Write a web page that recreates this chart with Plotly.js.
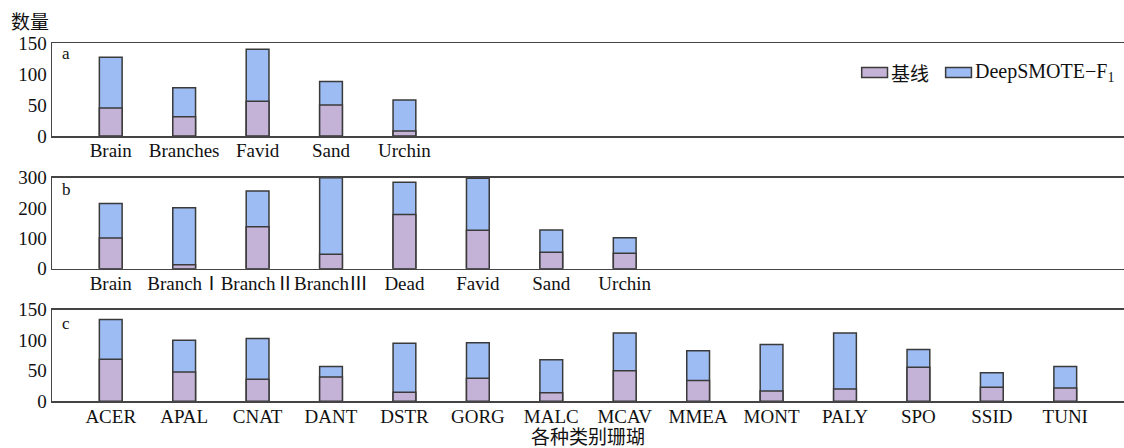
<!DOCTYPE html>
<html>
<head>
<meta charset="utf-8">
<script src="https://cdn.plot.ly/plotly-3.0.1.min.js"></script>
<style>html,body{margin:0;padding:0;background:#fff;}#chart{width:1124px;height:448px;}</style>
</head>
<body>
<div id="chart"></div>
<script>
// Panel a
const catsA = ['Brain', 'Branches', 'Favid', 'Sand', 'Urchin'];
const baseA = [45, 31, 56, 50, 8];
const deepA = [127, 78, 140, 88, 58];
// Panel b
const catsB = ['Brain', 'Branch\u2160', 'Branch\u2161', 'Branch\u2162', 'Dead', 'Favid', 'Sand', 'Urchin'];
const baseB = [101, 13, 138, 48, 179, 127, 54, 51];
const deepB = [215, 201, 256, 300, 285, 298, 128, 102];
// Panel c
const catsC = ['ACER', 'APAL', 'CNAT', 'DANT', 'DSTR', 'GORG', 'MALC', 'MCAV', 'MMEA', 'MONT', 'PALY', 'SPO', 'SSID', 'TUNI'];
const baseC = [69, 48, 36, 40, 15, 38, 14, 50, 34, 17, 20, 56, 23, 22];
const deepC = [134, 100, 103, 57, 95, 96, 68, 112, 83, 93, 112, 85, 47, 57];

const seriesNames = ['基线', 'DeepSMOTE\u2212F<sub>1</sub>'];
const baseColor = '#c4b3d7';
const deepColor = '#9cbcf3';
const edgeColor = '#3a3a3a';
const edge = {color: edgeColor, width: 1.5};
const serif = 'Liberation Serif, Times New Roman, Noto Sans CJK SC, serif';
const cjk = 'Noto Sans CJK SC, sans-serif';

function pair(cats, base, deep, xa, ya) {
  return [
    {type: 'bar', x: cats, y: deep, xaxis: xa, yaxis: ya, name: seriesNames[1],
     marker: {color: deepColor, line: edge}, width: 0.31, showlegend: false, hoverinfo: 'x+y'},
    {type: 'bar', x: cats, y: base, xaxis: xa, yaxis: ya, name: seriesNames[0],
     marker: {color: baseColor, line: edge}, width: 0.31, showlegend: false, hoverinfo: 'x+y'}
  ];
}

const data = [].concat(
  pair(catsA, baseA, deepA, 'x', 'y'),
  pair(catsB, baseB, deepB, 'x2', 'y2'),
  pair(catsC, baseC, deepC, 'x3', 'y3')
);

const xRange = [-0.8, 13.8];
function xax(anchor) {
  return {domain: [0, 1], anchor: anchor, type: 'category', range: xRange,
    showline: true, mirror: true, linecolor: '#444', linewidth: 1.5,
    ticks: '', showgrid: false, zeroline: false, fixedrange: true,
    tickangle: 0, ticklabelstandoff: -3,
    tickfont: {family: serif, size: 19, color: '#111'}};
}
function yax(anchor, dom, rng, dt) {
  return {domain: dom, anchor: anchor, range: rng, dtick: dt,
    showline: true, mirror: false, linecolor: '#444', linewidth: 1.5,
    ticks: '', showgrid: false, zeroline: false, fixedrange: true,
    tickfont: {family: serif, size: 19, color: '#111'}};
}

// Manual legend (wide swatches as in the reference)
const legendShapes = [
  {type: 'rect', xref: 'paper', yref: 'paper', x0: 0.7553, x1: 0.7794, y0: 0.8270, y1: 0.8495,
   fillcolor: baseColor, line: {color: edgeColor, width: 1.5}},
  {type: 'rect', xref: 'paper', yref: 'paper', x0: 0.8336, x1: 0.8577, y0: 0.8270, y1: 0.8495,
   fillcolor: deepColor, line: {color: edgeColor, width: 1.5}}
];
const legendTexts = [
  {text: seriesNames[0], xref: 'paper', yref: 'paper', x: 0.7805, y: 0.839, xanchor: 'left', yanchor: 'middle',
   showarrow: false, font: {family: cjk, size: 19, color: '#111'}},
  {text: seriesNames[1], xref: 'paper', yref: 'paper', x: 0.8595, y: 0.839, xanchor: 'left', yanchor: 'middle',
   showarrow: false, font: {family: serif, size: 20, color: '#111'}}
];

const layout = {
  width: 1124, height: 448,
  margin: {l: 52, r: 0, t: 0, b: 0},
  paper_bgcolor: '#fff', plot_bgcolor: '#fff',
  barmode: 'overlay',
  showlegend: false,
  xaxis: xax('y'),
  yaxis: yax('x', [0.6964, 0.904], [0, 150], 50),
  xaxis2: xax('y2'),
  yaxis2: yax('x2', [0.4002, 0.6033], [0, 300], 100),
  xaxis3: xax('y3'),
  yaxis3: yax('x3', [0.1042, 0.3085], [0, 150], 50),
  shapes: legendShapes,
  annotations: [
    {text: '数量', xref: 'paper', yref: 'paper', x: -0.0205, y: 0.955, xanchor: 'center', yanchor: 'middle',
     showarrow: false, font: {family: cjk, size: 19, color: '#111'}},
    {text: '各种类别珊瑚', xref: 'paper', yref: 'paper', x: 0.5, y: 0.027, xanchor: 'center', yanchor: 'middle',
     showarrow: false, font: {family: cjk, size: 19, color: '#111'}},
    {text: 'a', xref: 'paper', yref: 'paper', x: 0.0075, y: 0.88, xanchor: 'left', yanchor: 'middle',
     showarrow: false, font: {family: serif, size: 17, color: '#111'}},
    {text: 'b', xref: 'paper', yref: 'paper', x: 0.0075, y: 0.576, xanchor: 'left', yanchor: 'middle',
     showarrow: false, font: {family: serif, size: 17, color: '#111'}},
    {text: 'c', xref: 'paper', yref: 'paper', x: 0.0075, y: 0.278, xanchor: 'left', yanchor: 'middle',
     showarrow: false, font: {family: serif, size: 17, color: '#111'}}
  ].concat(legendTexts)
};

Plotly.newPlot('chart', data, layout, {displayModeBar: false, staticPlot: true});
</script>
</body>
</html>
